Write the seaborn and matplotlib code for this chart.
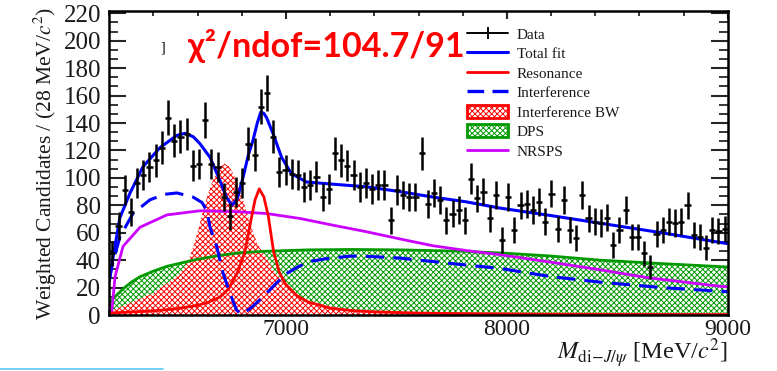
import numpy as np
import pandas as pd
import matplotlib
matplotlib.use("Agg")
import matplotlib.pyplot as plt
import seaborn as sns
from matplotlib.ticker import MultipleLocator, FixedLocator
from matplotlib.patches import Patch
from matplotlib.lines import Line2D

# ---------------- data ----------------
bin_low = 6200
bin_width = 28
n_bins = 100

counts = [45, 65, 91, 75, 96, 102, 108, 113, 122, 144,
          127, 130, 132, 109, 110, 142, 110, 108, 86, 72,
          90, 96, 125, 117, 152, 162, 130, 104, 106, 103,
          102, 93.5, 95, 101, 86, 92, 118, 113, 109, 102,
          93.5, 96, 92, 95, 95, 69, 91, 87.5, 86, 86,
          118, 81, 89, 84, 69, 74, 76.5, 69, 99.5, 85,
          90, 70.5, 87.5, 55, 86, 62, 80, 81, 76.5, 82.5,
          68, 88.5, 63, 84, 62, 56, 87.5, 70.5, 68, 67,
          71, 51, 62, 76.5, 57, 57, 45, 35, 59, 62,
          68, 67, 68, 80, 58, 57, 49, 62, 61, 63]

errors = [9, 10, 11, 10, 11, 11, 11, 12, 12, 13,
          12, 12, 12, 11, 11, 13, 11, 11, 10, 10,
          11, 11, 12, 12, 13, 13, 12, 11, 11, 11,
          11, 11, 11, 11, 10, 11, 12, 12, 11, 11,
          11, 11, 11, 11, 11, 10, 11, 10, 10, 10,
          12, 10, 10, 10, 10, 10, 10, 10, 11, 10,
          10, 10, 10, 9.5, 10, 9.5, 10, 10, 10, 10,
          10, 10, 9.5, 10, 9.5, 9.5, 10, 10, 10, 10,
          10, 9.5, 9.5, 10, 9.5, 9.5, 9, 9, 9.5, 9.5,
          10, 10, 10, 10, 9.5, 9.5, 9, 9.5, 9.5, 9.5]

total_m = [6200, 6217, 6248, 6294, 6352, 6429, 6506, 6543, 6580, 6610,
           6656, 6701, 6730, 6755, 6780, 6805, 6830, 6850, 6870, 6886,
           6900, 6912, 6941, 6980, 7025, 7093, 7212, 7365, 7515, 7665,
           7817, 7968, 8200, 8420, 8700, 9000]
total_v = [25, 42, 71, 89, 108, 122, 131, 132.5, 130, 125,
           115, 98, 86, 80, 85, 100, 117, 127, 140, 148,
           147, 144, 132.5, 115, 103, 97, 95.4, 93.5, 90, 86,
           82.5, 78, 72.5, 67, 60, 52]

interf_m = [6200, 6211, 6248, 6307, 6384, 6450, 6506, 6579, 6620, 6642,
            6656, 6686, 6716, 6746, 6776, 6800, 6840, 6895, 6955, 7000,
            7053, 7105, 7200, 7300, 7400, 7515, 7665, 7817, 7968, 8200,
            8420, 8700, 9000]
interf_v = [25, 35, 57, 74, 84, 88, 89, 86, 82, 76,
            64, 50, 30, 16, 3.6, 0.5, 5, 13, 23, 30,
            35, 39, 41.5, 43, 42.5, 41.5, 39, 36.4, 34, 28,
            24, 20, 17]

reso_m = [6200, 6300, 6400, 6500, 6600, 6650, 6700, 6740, 6780, 6814,
          6840, 6860, 6879, 6900, 6920, 6944, 6970, 7000, 7050, 7100,
          7200, 7300, 7400, 7600, 7800, 8200, 9000]
reso_v = [1.5, 2.2, 3.0, 4.5, 7, 9.5, 13, 19, 31, 46,
          68, 84, 92, 86, 72, 46, 31, 22, 14, 9.5,
          5, 3.2, 2.3, 1.4, 1.0, 0.6, 0.3]

bw_m = [6200, 6300, 6400, 6460, 6520, 6560, 6590, 6615, 6640, 6670,
        6700, 6720, 6745, 6770, 6790, 6810, 6835, 6870, 6910, 6950,
        7000, 7060, 7130, 7212, 7300, 7400, 7600, 7800, 8200, 9000]
bw_v = [2.5, 9, 16, 23, 30, 40, 55, 70, 85, 99,
        108, 110.5, 108, 100, 91, 82, 68, 52, 42, 31,
        21, 13.5, 9, 6, 3.5, 2.2, 1.2, 0.8, 0.4, 0.2]

dps_m = [6200, 6211, 6262, 6300, 6340, 6400, 6461, 6580, 6700, 6800,
         6912, 7100, 7300, 7515, 7800, 8000, 8200, 8420, 8700, 9000]
dps_v = [8, 11, 19, 24, 28, 32, 35.5, 40, 43.5, 45.5,
         46.5, 47.5, 47.8, 47.5, 46.5, 45, 43, 40, 37.5, 35]

nrsps_m = [6200, 6211, 6226, 6262, 6339, 6461, 6610, 6760, 6912, 7063,
           7212, 7365, 7515, 7665, 7817, 7968, 8200, 8420, 8646, 8963, 9000]
nrsps_v = [0, 2, 28, 50, 64, 73, 76, 75.5, 74, 70.4,
           65.5, 60.7, 55.5, 50.5, 47, 44, 38.5, 33, 27, 21, 20.5]

legend_labels = ["Data", "Total fit", "Resonance", "Interference",
                 "Interference BW", "DPS", "NRSPS"]

# ---------------- style ----------------
sns.set_theme(style="ticks")
plt.rcParams["font.family"] = ["Liberation Serif", "DejaVu Serif"]
plt.rcParams["mathtext.fontset"] = "stix"
plt.rcParams["hatch.linewidth"] = 0.7

BLUE = "#0000FF"
RED = "#FF0000"
GREEN = "#009A00"
MAGENTA = "#CC00FF"
TXT = "#1a1a1a"

W, H = 777, 371
fig = plt.figure(figsize=(W / 100, H / 100), dpi=100)
ax = fig.add_axes([109.3 / W, 1 - 315 / H, (727.7 - 109.3) / W, (315 - 11) / H])

centers = bin_low + bin_width / 2 + bin_width * np.arange(n_bins)
df_data = pd.DataFrame({"mass": centers, "count": counts, "err": errors})

# filled components
ax.fill_between(dps_m, 0, dps_v, facecolor="white", edgecolor=GREEN,
                hatch="xxxxxx", linewidth=0, zorder=1)
ax.fill_between(bw_m, 0, bw_v, facecolor="white", edgecolor=RED,
                hatch="xxxxxx", linewidth=0, zorder=1.1)

curves = [
    (dps_m, dps_v, GREEN, 2.0, None),
    (nrsps_m, nrsps_v, MAGENTA, 2.0, None),
    (reso_m, reso_v, RED, 2.0, None),
    (interf_m, interf_v, BLUE, 2.2, (6, 3)),
    (total_m, total_v, BLUE, 2.2, None),
]
for m, v, c, lw, dash in curves:
    sns.lineplot(x=m, y=v, ax=ax, color=c, linewidth=lw, zorder=2,
                 estimator=None, sort=True)
    if dash is not None:
        ax.lines[-1].set_dashes(dash)

ax.errorbar(df_data["mass"], df_data["count"], yerr=df_data["err"],
            xerr=bin_width / 2, fmt="none", ecolor="black",
            elinewidth=1.8, capsize=0, zorder=3)

ax.set_xlim(6200, 9000)
ax.set_ylim(0, 221.7)

# ticks (ROOT style, inward on all sides)
ax.xaxis.set_major_locator(FixedLocator([7000, 8000, 9000]))
ax.xaxis.set_minor_locator(MultipleLocator(200))
ax.yaxis.set_major_locator(MultipleLocator(20))
ax.yaxis.set_minor_locator(MultipleLocator(20 / 3))
ax.tick_params(axis="x", which="major", direction="in", length=6, width=1.5,
               top=True, bottom=True, labelsize=17, pad=3,
               labelcolor=TXT)
ax.tick_params(axis="x", which="minor", direction="in", length=3.5, width=1.3,
               top=True, bottom=True)
ax.tick_params(axis="y", which="major", direction="in", length=12, width=1.5,
               left=True, right=True, labelsize=18, pad=6, labelcolor=TXT)
ax.tick_params(axis="y", which="minor", direction="in", length=6.5, width=1.3,
               left=True, right=True)
for s in ax.spines.values():
    s.set_linewidth(1.8)
    s.set_color("black")

ax.set_ylabel(r"Weighted Candidates / (28 MeV/$c^{2}$)", fontsize=15.5,
              labelpad=3, color=TXT)
fig.text(727 / W, 1 - 360 / H, r"$M_{\mathrm{di}\!-\!J/\psi}$ [MeV/$c^{2}$]",
         fontsize=17.5, ha="right", va="baseline", color=TXT)

# legend
handles = [
    Line2D([], [], color="black", lw=1.4, marker="|", markersize=9,
           markeredgewidth=1.4),
    Line2D([], [], color=BLUE, lw=2.2),
    Line2D([], [], color=RED, lw=2.0),
    Line2D([], [], color=BLUE, lw=2.4, dashes=(5, 2.5)),
    Patch(facecolor="white", edgecolor=RED, hatch="xxxxxx", linewidth=2),
    Patch(facecolor="white", edgecolor=GREEN, hatch="xxxxxx", linewidth=2),
    Line2D([], [], color=MAGENTA, lw=2.0),
]
leg = fig.legend(handles, legend_labels, loc="upper left",
                 bbox_to_anchor=(467 / W, 1 - 27 / H), frameon=False,
                 fontsize=11, handlelength=2.7, handleheight=0.9,
                 handletextpad=0.55, labelspacing=0.32, borderpad=0,
                 borderaxespad=0)
for t in leg.get_texts():
    t.set_color(TXT)

# annotations on the slide
fig.text(188 / W, 1 - 57 / H, "χ²/ndof=104.7/91", color=RED, fontsize=24.5,
         fontweight="bold", family=["Lato", "Open Sans", "DejaVu Sans"],
         ha="left", va="baseline")
fig.text(161 / W, 1 - 48 / H, "]", color="black", fontsize=10, ha="left",
         va="center")
fig.add_artist(Line2D([0, 163 / W], [1 - 369 / H, 1 - 369 / H],
                      transform=fig.transFigure, color="#5BC8F5", lw=1.2))

fig.savefig("out.png", dpi=100)
